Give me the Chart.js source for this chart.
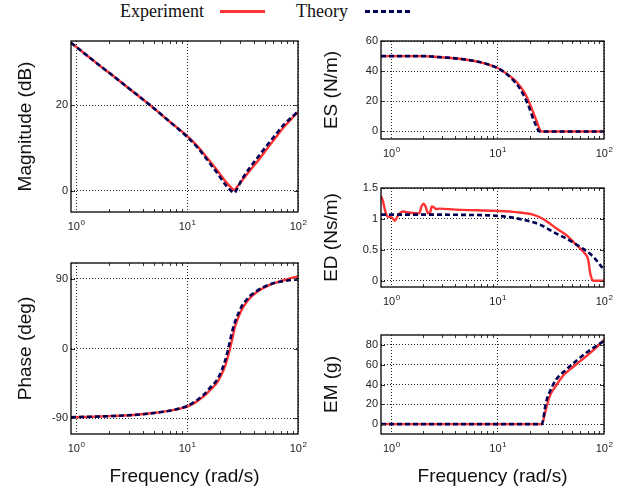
<!DOCTYPE html>
<html>
<head>
<meta charset="utf-8">
<script src="https://cdn.jsdelivr.net/npm/chart.js@4.4.0/dist/chart.umd.min.js"></script>
<style>
  body { margin: 0; width: 628px; height: 492px; position: relative; background: #fff; overflow: hidden; }
  .panel { position: absolute; }
  #legend { position: absolute; left: 0; top: 0; width: 628px; height: 26px; font-family: "Liberation Serif", "DejaVu Serif", serif; font-size: 18px; line-height: 1; color: #111; }
  #legend span { position: absolute; }
</style>
</head>
<body>
<div id="legend">
  <span style="left:120px; top:2px">Experiment</span>
  <span style="left:220px; top:10px; width:45px; height:3px; background:#ff3333"></span>
  <span style="left:296px; top:2px">Theory</span>
  <span style="left:365px; top:10px; width:45px; height:3px; background:repeating-linear-gradient(90deg,#000055 0 5px,transparent 5px 8px)"></span>
</div>
<div class="panel" style="left:0; top:30px; width:310px; height:212px"><canvas id="cMag"></canvas></div>
<div class="panel" style="left:0; top:250px; width:310px; height:242px"><canvas id="cPhase"></canvas></div>
<div class="panel" style="left:310px; top:30px; width:318px; height:140px"><canvas id="cES"></canvas></div>
<div class="panel" style="left:310px; top:172px; width:318px; height:138px"><canvas id="cED"></canvas></div>
<div class="panel" style="left:310px; top:312px; width:318px; height:180px"><canvas id="cEM"></canvas></div>
<script>
// x axis (frequency, log)
const xTicks = [1, 10, 100];
const xTickExp = ['0', '1', '2'];
const minorTicks = [2, 3, 4, 5, 6, 7, 8, 9, 20, 30, 40, 50, 60, 70, 80, 90];

// Magnitude (dB)
const magF   = [0.9, 1.5, 2, 3, 4.64, 7, 10, 12.5, 15, 17.5, 19.8, 22, 24.4, 26.7, 28.5, 31, 36.9, 44, 52.2, 62, 73.8, 86, 100];
const magExp = [34.6, 30.0, 27.5, 23.9, 20.0, 16.1, 12.8, 10.3, 7.8, 5.7, 3.9, 2.3, 1.0, 0.2, 1.0, 2.2, 4.7, 7.1, 9.7, 12.2, 14.7, 16.6, 18.4];
const magTh  = [34.6, 30.0, 27.5, 23.9, 20.0, 16.1, 12.6, 10.0, 7.4, 5.1, 3.2, 1.5, 0.2, -0.5, 0.6, 2.5, 5.4, 8.0, 10.5, 12.9, 15.3, 17.0, 18.5];
const magTicks = [0, 20];

// Phase (deg)
const phF   = [0.9, 2, 3.3, 5, 7, 10, 12, 14, 16, 18.5, 20.2, 22, 23.2, 24.4, 25.7, 27.1, 29, 31.1, 33.8, 36.9, 42, 48.8, 57, 68.9, 83, 100];
const phExp = [-88.5, -87, -85.5, -83, -80, -74.8, -69, -62, -54, -44.6, -35, -23, -12, 0, 14, 28.4, 40, 50, 58, 65, 72, 78, 82.5, 86.4, 90, 92.8];
const phTh  = [-88.5, -87, -85.5, -83, -80, -74, -67.5, -60, -51, -41, -30.5, -16, -4, 10, 23.5, 34.5, 45, 54.5, 61.5, 67.5, 73.5, 79, 83, 85.8, 87.8, 88.8];
const phTicks = [-90, 0, 90];

// ES (N/m)
const esExpF = [0.8, 1, 2, 2.84, 4.38, 6.77, 10, 12.1, 15, 18, 20.8, 23.2, 25.8, 100];
const esExp  = [50, 50, 50, 49.3, 48.2, 46, 42.1, 38.4, 33, 25.4, 15.6, 7, 0, 0];
const esThF  = [0.8, 1, 2, 2.84, 4.38, 6.77, 10, 12.1, 14, 16.1, 19.3, 22.3, 24.9, 100];
const esTh   = [50, 50, 50, 49.3, 48.2, 46, 42, 38.2, 34, 28.7, 17.8, 5.9, 0, 0];
const esTicks = [0, 20, 40, 60];

// ED (Ns/m)
const edExpF = [0.8, 0.83, 0.87, 0.92, 1.0, 1.08, 1.15, 1.28, 1.5, 1.83, 1.92, 2.0, 2.1, 2.2, 2.3, 2.4, 2.5, 2.65, 2.84, 4, 6.3, 10, 15, 21.5, 26.8, 35.7, 44.4, 55.2, 66.2, 71.2, 73.8, 76, 79.3, 100];
const edExp  = [1.37, 1.3, 1.15, 1.04, 1.03, 0.97, 1.05, 1.12, 1.1, 1.09, 1.2, 1.245, 1.2, 1.1, 1.09, 1.2, 1.19, 1.16, 1.167, 1.15, 1.14, 1.13, 1.11, 1.07, 1.0, 0.845, 0.737, 0.576, 0.44, 0.334, 0.145, 0.05, 0, 0];
const edThF  = [0.8, 2, 5, 10, 15, 20, 24.9, 33.3, 44.4, 59.4, 79.3, 95, 100];
const edTh   = [1.07, 1.07, 1.065, 1.05, 1.01, 0.96, 0.91, 0.79, 0.68, 0.55, 0.39, 0.226, 0.18];
const edTicks = [0, 0.5, 1, 1.5];

// EM (g)
const emExpF = [0.8, 26.1, 28, 30.8, 35, 41, 47, 55, 68, 80, 100];
const emExp  = [0, 0, 12, 28, 38, 48.6, 54.5, 60.5, 68.5, 75, 85];
const emThF  = [0.8, 26, 28.5, 31, 35.5, 44, 55, 68, 85, 100];
const emTh   = [0, 0, 22, 33, 45, 55, 64, 72, 79, 84];
const emTicks = [0, 20, 40, 60, 80];

const RED = '#ff3333';
const NAVY = '#000055';
const SANS = '"Liberation Sans", Arial, Helvetica, sans-serif';
Chart.defaults.font.family = SANS;

const pts = (f, v) => f.map((x, i) => ({ x: x, y: v[i] }));

// box, inside ticks and 10^k labels
const frame = {
  id: 'frame',
  afterDraw(chart) {
    const { ctx, chartArea: a } = chart;
    const x = chart.scales.x, y = chart.scales.y;
    ctx.save();
    ctx.strokeStyle = '#333';
    ctx.lineWidth = 1;
    ctx.beginPath();
    for (const v of minorTicks) {
      if (v <= x.min || v >= x.max) continue;
      const px = Math.round(x.getPixelForValue(v)) + 0.5;
      ctx.moveTo(px, a.bottom); ctx.lineTo(px, a.bottom - 3);
      ctx.moveTo(px, a.top); ctx.lineTo(px, a.top + 3);
    }
    for (const t of y.ticks) {
      const py = Math.round(y.getPixelForValue(t.value)) + 0.5;
      ctx.moveTo(a.left, py); ctx.lineTo(a.left + 4, py);
      ctx.moveTo(a.right, py); ctx.lineTo(a.right - 4, py);
    }
    ctx.stroke();
    ctx.strokeStyle = '#000';
    ctx.lineWidth = 1.3;
    ctx.strokeRect(a.left, a.top, a.right - a.left, a.bottom - a.top);

    ctx.fillStyle = '#222';
    ctx.textBaseline = 'alphabetic';
    xTicks.forEach((v, i) => {
      const px = x.getPixelForValue(v);
      ctx.font = '11px ' + SANS;
      const w1 = ctx.measureText('10').width;
      ctx.font = '8px ' + SANS;
      const w2 = ctx.measureText(xTickExp[i]).width;
      const x0 = px - (w1 + w2) / 2;
      const base = a.bottom + 18;
      ctx.font = '11px ' + SANS;
      ctx.fillText('10', x0, base);
      ctx.font = '8px ' + SANS;
      ctx.fillText(xTickExp[i], x0 + w1 + 0.5, base - 5);
    });
    ctx.restore();
  }
};

function makeChart(id, c) {
  new Chart(document.getElementById(id), {
    type: 'line',
    data: {
      datasets: [
        { label: 'Theory', data: pts(c.thF, c.th), borderColor: NAVY, borderWidth: 2.6, borderDash: [5, 3],
          pointRadius: 0, cubicInterpolationMode: 'monotone', fill: false },
        { label: 'Experiment', data: pts(c.expF, c.exp), borderColor: RED, borderWidth: 2.4,
          pointRadius: 0, cubicInterpolationMode: 'monotone', fill: false }
      ]
    },
    options: {
      responsive: true,
      maintainAspectRatio: false,
      animation: false,
      events: [],
      layout: { padding: { top: c.padTop, right: c.padRight, left: 0, bottom: 0 } },
      plugins: { legend: { display: false }, tooltip: { enabled: false } },
      scales: {
        x: {
          type: 'logarithmic',
          min: c.xMin,
          max: 100,
          afterBuildTicks: s => { s.ticks = xTicks.map(v => ({ value: v, major: true })); },
          afterFit: s => { s.height = c.xH; },
          ticks: { display: false },
          grid: { color: '#222', lineWidth: 1, drawTicks: false },
          border: { display: false, dash: [1, 2] },
          title: {
            display: !!c.xTitle,
            text: c.xTitle || '',
            color: '#111',
            font: { size: 19 },
            padding: { top: 0, bottom: 4 }
          }
        },
        y: {
          min: c.yMin,
          max: c.yMax,
          afterBuildTicks: s => { s.ticks = c.yTicks.map(v => ({ value: v })); },
          afterFit: s => { s.width = 71; },
          ticks: { color: '#222', font: { size: 11 }, padding: 3, callback: v => String(v) },
          grid: { color: '#222', lineWidth: 1, drawTicks: false },
          border: { display: false, dash: [1, 2] },
          title: {
            display: true,
            text: c.yTitle,
            color: '#111',
            font: { size: 19 },
            padding: { top: c.yTitlePad, bottom: 0 }
          }
        }
      }
    },
    plugins: [frame]
  });
}

makeChart('cMag', {
  expF: magF, exp: magExp, thF: magF, th: magTh,
  xMin: 0.9, yMin: -5, yMax: 35, yTicks: magTicks,
  yTitle: 'Magnitude (dB)', yTitlePad: 14,
  padTop: 11, padRight: 12, xH: 30
});
makeChart('cPhase', {
  expF: phF, exp: phExp, thF: phF, th: phTh,
  xMin: 0.9, yMin: -110, yMax: 110, yTicks: phTicks,
  yTitle: 'Phase (deg)', yTitlePad: 14, xTitle: 'Frequency (rad/s)',
  padTop: 13, padRight: 12, xH: 58
});
makeChart('cES', {
  expF: esExpF, exp: esExp, thF: esThF, th: esTh,
  xMin: 0.8, yMin: -5, yMax: 60, yTicks: esTicks,
  yTitle: 'ES (N/m)', yTitlePad: 10,
  padTop: 11, padRight: 24, xH: 31
});
makeChart('cED', {
  expF: edExpF, exp: edExp, thF: edThF, th: edTh,
  xMin: 0.8, yMin: -0.1, yMax: 1.5, yTicks: edTicks,
  yTitle: 'ED (Ns/m)', yTitlePad: 10,
  padTop: 16, padRight: 24, xH: 23
});
makeChart('cEM', {
  expF: emExpF, exp: emExp, thF: emThF, th: emTh,
  xMin: 0.8, yMin: -10, yMax: 90, yTicks: emTicks,
  yTitle: 'EM (g)', yTitlePad: 10, xTitle: 'Frequency (rad/s)',
  padTop: 23, padRight: 24, xH: 58
});
</script>
</body>
</html>
